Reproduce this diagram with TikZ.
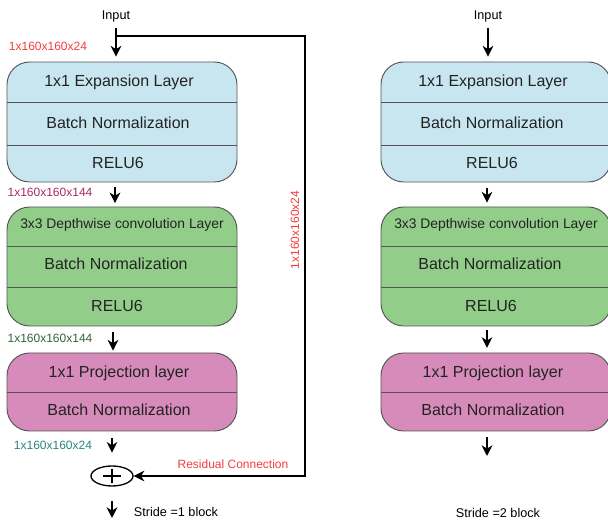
\documentclass[tikz,border=0pt]{standalone}
\usepackage{fontspec}
\setmainfont{Liberation Sans}
\usetikzlibrary{arrows.meta,shapes.geometric}

\definecolor{expblue}{RGB}{200,230,240}
\definecolor{dwgreen}{RGB}{146,205,138}
\definecolor{projpink}{RGB}{214,139,186}
\definecolor{dimred}{RGB}{245,60,60}
\definecolor{dimmaroon}{RGB}{170,40,100}
\definecolor{dimgreen}{RGB}{50,100,50}
\definecolor{dimteal}{RGB}{40,130,135}
\definecolor{edgegray}{RGB}{85,85,85}
\definecolor{inkgray}{RGB}{35,35,35}

\tikzset{
  layerbox/.style={draw=edgegray,line width=0.7pt,rounded corners=17pt,minimum width=172.5pt,inner sep=0pt},
  rowtxt/.style={font=\fontsize{12}{14}\selectfont,text=inkgray,inner sep=0pt},
  dimtxt/.style={font=\fontsize{9}{11}\selectfont,inner sep=0pt},
  flow/.style={-{Stealth[length=8pt,width=8pt,inset=2.5pt]},line width=1.1pt},
}

\begin{document}
\begin{tikzpicture}[x=0.75pt,y=-0.75pt]
    \useasboundingbox (0,0) rectangle (608,523);
    % the two layer stacks
    \foreach \cx/\i in {122/1,496/2}{
        \node[layerbox,fill=expblue,minimum height=90pt] (exp\i) at (\cx,122) {};
        \node[layerbox,fill=dwgreen,minimum height=89.25pt] (dw\i) at (\cx,266.5) {};
        \node[layerbox,fill=projpink,minimum height=58.5pt] (pr\i) at (\cx,392) {};
        \draw[edgegray,line width=0.7pt] (exp\i.west |- 0,102) -- (exp\i.east |- 0,102);
        \draw[edgegray,line width=0.7pt] (exp\i.west |- 0,145) -- (exp\i.east |- 0,145);
        \draw[edgegray,line width=0.7pt] (dw\i.west |- 0,246) -- (dw\i.east |- 0,246);
        \draw[edgegray,line width=0.7pt] (dw\i.west |- 0,287) -- (dw\i.east |- 0,287);
        \draw[edgegray,line width=0.7pt] (pr\i.west |- 0,392) -- (pr\i.east |- 0,392);
        \node[rowtxt] (expl\i) at (\cx-3,82) {1x1 Expansion Layer};
        \node[rowtxt] (expbn\i) at (\cx-4,123) {Batch Normalization};
        \node[rowtxt] (exprelu\i) at (\cx-4,163) {RELU6};
        \node[rowtxt,font=\fontsize{10.4}{12}\selectfont] (dwl\i) at (\cx,225) {3x3 Depthwise convolution Layer};
        \node[rowtxt] (dwbn\i) at (\cx-6,264) {Batch Normalization};
        \node[rowtxt] (dwrelu\i) at (\cx-5,306) {RELU6};
        \node[rowtxt] (prl\i) at (\cx-3,373) {1x1 Projection layer};
        \node[rowtxt] (prbn\i) at (\cx-3,410) {Batch Normalization};
    }
    % stride 1 block
    \node[dimtxt,font=\fontsize{9.5}{11}\selectfont] (in1) at (116,16) {Input};
    \node[dimtxt,text=dimred] (d0) at (48,46) {1x160x160x24};
    \node[dimtxt,text=dimmaroon] (d1) at (50,192) {1x160x160x144};
    \node[dimtxt,text=dimgreen] (d2) at (50,338) {1x160x160x144};
    \node[dimtxt,text=dimteal] (d3) at (53,445) {1x160x160x24};
    \node[draw,ellipse,line width=1pt,minimum width=31.5pt,minimum height=15pt,inner sep=0pt] (plus) at (112,476) {};
    \draw[line width=0.8pt] ([xshift=-6.75pt]plus.center) -- ([xshift=6.75pt]plus.center)
        ([yshift=-5.5pt]plus.center) -- ([yshift=5.5pt]plus.center);
    \coordinate (out1) at (112,518);
    \draw[flow,shorten <=4.5pt,shorten >=3.75pt] (in1.south) -- (exp1.north -| in1.south);
    \draw[flow,shorten <=3.75pt,shorten >=2.5pt] (exp1.south -| 115,0) -- (dw1.north -| 115,0);
    \draw[flow,shorten <=4.5pt,shorten >=1.5pt] (dw1.south -| 113,0) -- (pr1.north -| 113,0);
    \draw[flow,shorten <=5pt,shorten >=9.5pt] (pr1.south -| 112,0) -- (plus.north);
    \draw[flow,shorten <=11pt] (plus.south) -- (out1);
    \node[dimtxt,font=\fontsize{9.5}{11}\selectfont] (st1) at (176,512) {Stride =1 block};
    % residual connection
    \coordinate (split) at (116,36);
    \coordinate (rc) at (305,36);
    \draw[flow] (split) -- (rc) |- (plus);
    \node[dimtxt,text=dimred,rotate=90] (rclbl) at (295,230) {1x160x160x24};
    \node[dimtxt,text=dimred] (rctxt) at (233,464) {Residual Connection};
    % stride 2 block
    \node[dimtxt,font=\fontsize{9.5}{11}\selectfont] (in2) at (488,16) {Input};
    \coordinate (out2) at (487,456);
    \draw[flow,shorten <=4.5pt,shorten >=3.75pt] (in2.south) -- (exp2.north -| in2.south);
    \draw[flow,shorten <=4.5pt,shorten >=3pt] (exp2.south -| 487,0) -- (dw2.north -| 487,0);
    \draw[flow,shorten <=3pt,shorten >=3.5pt] (dw2.south -| 487,0) -- (pr2.north -| 487,0);
    \draw[flow,shorten <=4.5pt] (pr2.south -| 487,0) -- (out2);
    \node[dimtxt,font=\fontsize{9.5}{11}\selectfont] (st2) at (498,513) {Stride =2 block};
\end{tikzpicture}
\end{document}
